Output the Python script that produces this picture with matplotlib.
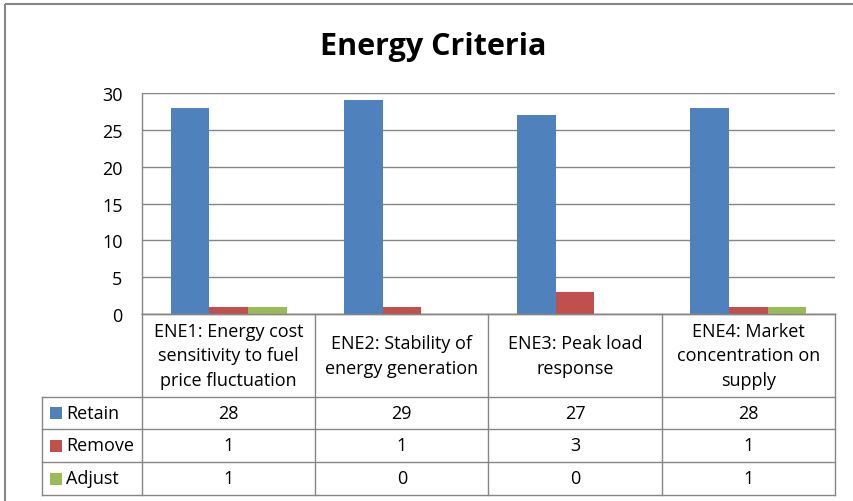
import numpy as np
import matplotlib
matplotlib.use("Agg")
import matplotlib.pyplot as plt
from matplotlib.patches import Rectangle

plt.rcParams['font.family'] = ['Open Sans', 'DejaVu Sans']

# chart data
categories = [
    "ENE1: Energy cost\nsensitivity to fuel\nprice fluctuation",
    "ENE2: Stability of\nenergy generation",
    "ENE3: Peak load\nresponse",
    "ENE4: Market\nconcentration on\nsupply",
]
series_names = ["Retain", "Remove", "Adjust"]
retain = [28, 29, 27, 28]
remove = [1, 1, 3, 1]
adjust = [1, 0, 0, 1]
colors = ["#4F81BD", "#C0504D", "#9BBB59"]
y_ticks = [0, 5, 10, 15, 20, 25, 30]

W, H = 854, 502
fig = plt.figure(figsize=(W / 100, H / 100), dpi=100)

# pixel layout of the plot area
px_left, px_right, px_top, px_bottom = 142, 835, 94, 315
ax = fig.add_axes([px_left / W, 1 - px_bottom / H,
                   (px_right - px_left) / W, (px_bottom - px_top) / H])

values = [retain, remove, adjust]
n = len(categories)
x = np.arange(n)
bw = 0.223
for i, (vals, c) in enumerate(zip(values, colors)):
    ax.bar(x + (i - 1) * bw, vals, width=bw, color=c, edgecolor="none", zorder=3)

ax.set_xlim(-0.5, n - 0.5)
ax.set_ylim(0, 30)
ax.set_yticks(y_ticks)
ax.set_yticklabels([str(t) for t in y_ticks], fontsize=13)
ax.set_xticks([])
ax.tick_params(axis="y", length=0, pad=14)
ax.grid(axis="y", color="#868686", linewidth=1, zorder=0)
for s in ax.spines.values():
    s.set_color("#868686")
    s.set_linewidth(1)
ax.spines["right"].set_visible(False)
ax.spines["top"].set_visible(False)

# overlay in pixel coordinates for the data table and frame
ov = fig.add_axes([0, 0, 1, 1])
ov.set_xlim(0, W)
ov.set_ylim(H, 0)
ov.axis("off")
ov.patch.set_alpha(0)

ov.add_patch(Rectangle((5, 5), W + 10, H + 10, fill=False,
                       edgecolor="#868686", linewidth=1.5))

ov.text(W / 2 + 6, 47, "Energy Criteria", ha="center", va="center",
        fontsize=22, fontweight="bold")

col_edges = np.linspace(px_left, px_right, n + 1)
row_edges = [315, 398, 430, 463, 496]
lab_left = 42
line_kw = dict(color="#868686", linewidth=1)

# horizontal lines
ov.plot([px_left, px_right], [row_edges[0], row_edges[0]], **line_kw)
for yy in row_edges[1:]:
    ov.plot([lab_left, px_right], [yy, yy], **line_kw)
# vertical lines
for xx in col_edges:
    ov.plot([xx, xx], [row_edges[0], row_edges[-1]], **line_kw)
ov.plot([lab_left, lab_left], [row_edges[1], row_edges[-1]], **line_kw)

tfs = 13
for j, cat in enumerate(categories):
    cx = (col_edges[j] + col_edges[j + 1]) / 2
    ov.text(cx, (row_edges[0] + row_edges[1]) / 2, cat, ha="center",
            va="center", fontsize=tfs, linespacing=1.45)
    for i, vals in enumerate(values):
        cy = (row_edges[i + 1] + row_edges[i + 2]) / 2
        ov.text(cx, cy, str(vals[j]), ha="center", va="center", fontsize=tfs)

for i, (name, c) in enumerate(zip(series_names, colors)):
    cy = (row_edges[i + 1] + row_edges[i + 2]) / 2
    ov.add_patch(Rectangle((50, cy - 6), 12, 12, facecolor=c, edgecolor="none"))
    ov.text(66, cy, name, ha="left", va="center", fontsize=tfs)

fig.savefig("out.png", dpi=100)
